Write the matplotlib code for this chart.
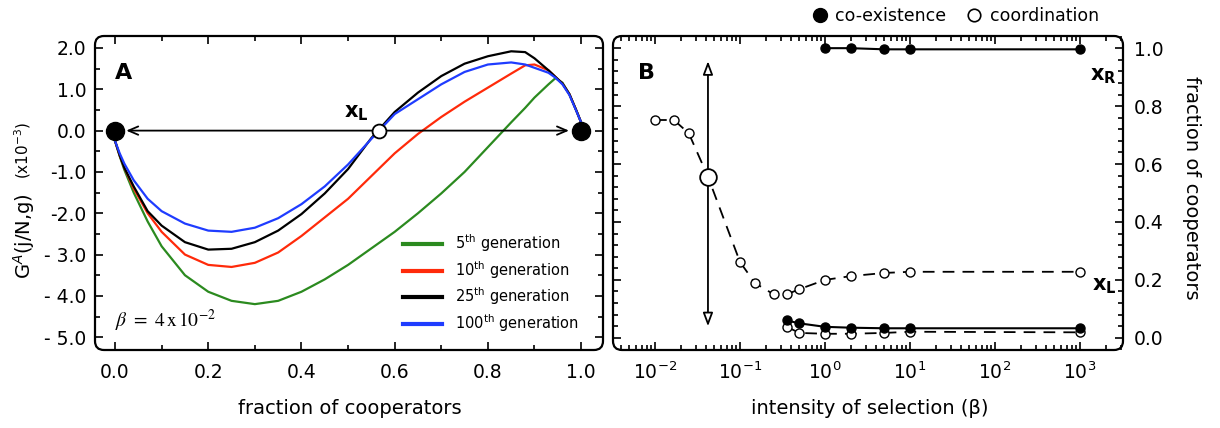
import matplotlib
matplotlib.use('Agg')
import matplotlib.pyplot as plt
from matplotlib.patches import FancyBboxPatch
from matplotlib.lines import Line2D
from matplotlib.ticker import FixedLocator, NullFormatter

plt.rcParams['font.family'] = ['DejaVu Sans']

# ---------------- data: panel A ----------------
frac = [0.0, 0.01, 0.02, 0.04, 0.07, 0.10, 0.15, 0.20, 0.25, 0.30, 0.35, 0.40,
        0.45, 0.50, 0.55, 0.60, 0.65, 0.70, 0.75, 0.80, 0.85, 0.88, 0.90,
        0.93, 0.945, 0.96, 0.975, 0.99, 1.0]
g_gen5 = [-0.25, -0.62, -0.95, -1.5, -2.2, -2.8, -3.5, -3.9, -4.12, -4.2, -4.12,
          -3.9, -3.6, -3.25, -2.85, -2.45, -2.0, -1.52, -1.0, -0.4, 0.2, 0.55,
          0.8, 1.12, 1.27, 1.16, 0.88, 0.48, 0.2]
g_gen10 = [-0.25, -0.6, -0.9, -1.4, -2.0, -2.45, -3.0, -3.25, -3.3, -3.2, -2.95,
           -2.55, -2.1, -1.65, -1.1, -0.55, -0.08, 0.33, 0.7, 1.04, 1.38, 1.58,
           1.6, 1.46, 1.3, 1.14, 0.88, 0.48, 0.2]
g_gen25 = [-0.25, -0.6, -0.9, -1.35, -1.95, -2.3, -2.7, -2.88, -2.86, -2.7, -2.42,
           -2.02, -1.52, -0.93, -0.18, 0.45, 0.92, 1.32, 1.62, 1.8, 1.92, 1.9,
           1.75, 1.46, 1.3, 1.14, 0.88, 0.48, 0.2]
g_gen100 = [-0.25, -0.55, -0.8, -1.2, -1.65, -1.95, -2.25, -2.42, -2.45, -2.35,
            -2.12, -1.78, -1.35, -0.82, -0.2, 0.4, 0.76, 1.12, 1.42, 1.6, 1.65,
            1.6, 1.52, 1.4, 1.28, 1.12, 0.86, 0.47, 0.2]
gen_labels = ['5$^{\\mathrm{th}}$ generation', '10$^{\\mathrm{th}}$ generation',
              '25$^{\\mathrm{th}}$ generation', '100$^{\\mathrm{th}}$ generation']
gen_colors = ['#2b8a1f', '#ff2a0a', '#000000', '#1f3cff']
fixed_pts = [0.0, 1.0]
xL_A = 0.5656
xticksA = [0.0, 0.2, 0.4, 0.6, 0.8, 1.0]
xtick_labelsA = ['0.0', '0.2', '0.4', '0.6', '0.8', '1.0']
xminorA = [0.1, 0.3, 0.5, 0.7, 0.9]
yticksA = [2.0, 1.0, 0.0, -1.0, -2.0, -3.0, -4.0, -5.0]
ytick_labelsA = ['2.0', '1.0', '0.0', '-1.0', '-2.0', '- 3.0', '- 4.0', '- 5.0']
yminorA = [1.5, 0.5, -0.5, -1.5, -2.5, -3.5, -4.5]

# ---------------- data: panel B ----------------
beta_xL_coord = [0.01, 0.0167, 0.025, 0.042, 0.1, 0.15, 0.25, 0.355, 0.5, 1, 2, 5, 10, 1000]
f_xL_coord = [0.752, 0.752, 0.706, 0.556, 0.262, 0.189, 0.15, 0.15, 0.168, 0.2,
              0.213, 0.224, 0.228, 0.228]
beta_A = 0.042
f_beta_A = 0.556
beta_xR_coex = [1, 2, 5, 10, 1000]
f_xR_coex = [1.0, 1.0, 0.996, 0.996, 0.996]
beta_low = [0.355, 0.5, 1, 2, 5, 10, 1000]
f_low_coex = [0.06, 0.05, 0.038, 0.035, 0.033, 0.033, 0.033]
f_low_coord = [0.038, 0.017, 0.014, 0.014, 0.017, 0.021, 0.019]
xticksB = [1e-2, 1e-1, 1e0, 1e1, 1e2, 1e3]
xtick_labelsB = ['$\\mathdefault{10^{-2}}$', '$\\mathdefault{10^{-1}}$',
                 '$\\mathdefault{10^{0}}$', '$\\mathdefault{10^{1}}$',
                 '$\\mathdefault{10^{2}}$', '$\\mathdefault{10^{3}}$']
yticksB = [0.0, 0.2, 0.4, 0.6, 0.8, 1.0]
ytick_labelsB = ['0.0', '0.2', '0.4', '0.6', '0.8', '1.0']
yminorB = [0.04, 0.08, 0.12, 0.16, 0.24, 0.28, 0.32, 0.36, 0.44, 0.48, 0.52, 0.56,
           0.64, 0.68, 0.72, 0.76, 0.84, 0.88, 0.92, 0.96]

W, H = 1220, 428
fig = plt.figure(figsize=(W / 100, H / 100), dpi=100)
axA = fig.add_axes([95 / W, 1 - 350 / H, (603 - 95) / W, (350 - 36) / H])
axB = fig.add_axes([613 / W, 1 - 350 / H, (1123 - 613) / W, (350 - 36) / H])

TICK_FS = 13.5
LAB_FS = 14

# ---------------- panel A ----------------
for ys, col in zip([g_gen5, g_gen10, g_gen25, g_gen100], gen_colors):
    axA.plot(frac, ys, color=col, lw=1.6, zorder=2)

axA.annotate('', xy=(0.024, 0), xytext=(0.974, 0),
             arrowprops=dict(arrowstyle='<->,head_length=0.7,head_width=0.3',
                             lw=1.3, color='black', shrinkA=0, shrinkB=0), zorder=3)
axA.plot(fixed_pts, [0, 0], 'o', ms=13, color='black', zorder=5, clip_on=False)
axA.plot([xL_A], [0], 'o', ms=10, mfc='white', mec='black', mew=1.3, zorder=6)
axA.text(0.545, 0.42, r'$\mathbf{x_L}$', fontsize=15, ha='right', va='center')
axA.text(0.0, 1.4, 'A', fontsize=16, fontweight='bold', ha='left', va='center')
axA.text(0.0, -4.61, r'$\beta\ =\ 4\,\mathrm{x}\,10^{-2}$', fontsize=14,
         math_fontfamily='stix', ha='left', va='center')

handles = [Line2D([], [], color=c, lw=3) for c in gen_colors]
leg = axA.legend(handles, gen_labels, loc='upper left', bbox_to_anchor=(0.606, 0.375),
                 frameon=False, fontsize=10.5, handlelength=2.7, handletextpad=0.9,
                 labelspacing=0.34, borderpad=0, borderaxespad=0)

axA.set_xlim(-0.043, 1.047)
axA.set_ylim(-5.31, 2.29)
axA.xaxis.set_major_locator(FixedLocator(xticksA))
axA.set_xticklabels(xtick_labelsA)
axA.xaxis.set_minor_locator(FixedLocator(xminorA))
axA.yaxis.set_major_locator(FixedLocator(yticksA))
axA.set_yticklabels(ytick_labelsA)
axA.yaxis.set_minor_locator(FixedLocator(yminorA))
axA.xaxis.set_minor_formatter(NullFormatter())
axA.yaxis.set_minor_formatter(NullFormatter())
axA.tick_params(which='both', direction='in', top=True, right=True, width=1.2,
                labelsize=TICK_FS)
axA.tick_params(which='major', length=6)
axA.tick_params(which='minor', length=3.5)
axA.tick_params(axis='x', pad=9)
axA.tick_params(axis='y', pad=6)

# ---------------- panel B ----------------
axB.set_xscale('log')
xlimB = (10 ** -2.494, 10 ** 3.506)
dash = (0, (6.5, 4.5))
axB.plot(beta_xL_coord, f_xL_coord, ls=dash, color='black', lw=1.3, marker='o',
         ms=6.5, mfc='white', mec='black', mew=1.0, zorder=3)
axB.plot(beta_low, f_low_coord, ls=dash, color='black', lw=1.3, marker='o',
         ms=6.5, mfc='white', mec='black', mew=1.0, zorder=3)
axB.plot(beta_low, f_low_coex, ls='-', color='black', lw=1.5, marker='o',
         ms=6.5, mfc='black', mec='black', zorder=4)
axB.plot(beta_xR_coex, f_xR_coex, ls='-', color='black', lw=1.5, marker='o',
         ms=6.5, mfc='black', mec='black', zorder=4, clip_on=False)
axB.annotate('', xy=(beta_A, 0.955), xytext=(beta_A, 0.04),
             arrowprops=dict(arrowstyle='<|-|>,head_length=0.8,head_width=0.3',
                             fc='white', ec='black', lw=1.3, shrinkA=0, shrinkB=0),
             zorder=2)
axB.plot([beta_A], [f_beta_A], 'o', ms=12, mfc='white', mec='black', mew=1.3, zorder=6)

axB.text(0.049, 0.882, 'B', transform=axB.transAxes, fontsize=16,
         fontweight='bold', ha='left', va='center')
axB.text(0.988, 0.905, r'$\mathbf{x_R}$', transform=axB.get_yaxis_transform(),
         fontsize=15, ha='right', va='center')
axB.text(0.988, 0.18, r'$\mathbf{x_L}$', transform=axB.get_yaxis_transform(),
         fontsize=15, ha='right', va='center')

axB.set_xlim(*xlimB)
axB.set_ylim(-0.042, 1.042)
axB.xaxis.set_major_locator(FixedLocator(xticksB))
axB.set_xticklabels(xtick_labelsB)
minorB = [m * t for t in [1e-3] + xticksB for m in range(2, 10)
          if xlimB[0] < m * t < xlimB[1]]
axB.xaxis.set_minor_locator(FixedLocator(minorB))
axB.xaxis.set_minor_formatter(NullFormatter())
axB.yaxis.set_major_locator(FixedLocator(yticksB))
axB.set_yticklabels(ytick_labelsB)
axB.yaxis.set_minor_locator(FixedLocator(yminorB))
axB.yaxis.set_minor_formatter(NullFormatter())
axB.tick_params(which='both', direction='in', top=True, right=True, left=True,
                labelleft=False, labelright=True, width=1.2, labelsize=TICK_FS)
axB.tick_params(which='major', length=6)
axB.tick_params(which='minor', length=3.5)
axB.tick_params(axis='x', pad=8)
axB.tick_params(axis='y', pad=8)

# legend of panel B (above)
hB = [Line2D([], [], ls='none', marker='o', ms=10, mfc='black', mec='black'),
      Line2D([], [], ls='none', marker='o', ms=9, mfc='white', mec='black', mew=1.2)]
fig.legend(hB, ['co-existence', 'coordination'], loc='center left',
           bbox_to_anchor=(811 / W, 1 - 16 / H), ncol=2, frameon=False,
           fontsize=12.5, handlelength=1.0, handletextpad=0.4, columnspacing=1.1,
           borderpad=0, borderaxespad=0)

# axis labels
fig.text(350 / W, 1 - 409 / H, 'fraction of cooperators', fontsize=LAB_FS,
         ha='center', va='center')
fig.text(870 / W, 1 - 409 / H, 'intensity of selection (\u03b2)', fontsize=LAB_FS,
         ha='center', va='center')
fig.text(24 / W, 1 - 236 / H, 'G$^{A}$(j/N,g)', fontsize=LAB_FS, rotation=90,
         ha='center', va='center')
fig.text(23 / W, 1 - 150 / H, '(x10$^{-3}$)', fontsize=11, rotation=90,
         ha='center', va='center')
fig.text(1192 / W, 1 - 188 / H, 'fraction of cooperators', fontsize=LAB_FS,
         rotation=270, ha='center', va='center')

# rounded frames
for ax in (axA, axB):
    for s in ax.spines.values():
        s.set_visible(False)
    pos = ax.get_position()
    r = 9
    p = FancyBboxPatch((pos.x0, pos.y0), pos.width, pos.height,
                       boxstyle='round,pad=0,rounding_size=%f' % (r / W),
                       mutation_aspect=W / H, transform=fig.transFigure,
                       fill=False, lw=1.6, ec='black', zorder=10, clip_on=False)
    fig.add_artist(p)

fig.savefig('out.png', dpi=100)
